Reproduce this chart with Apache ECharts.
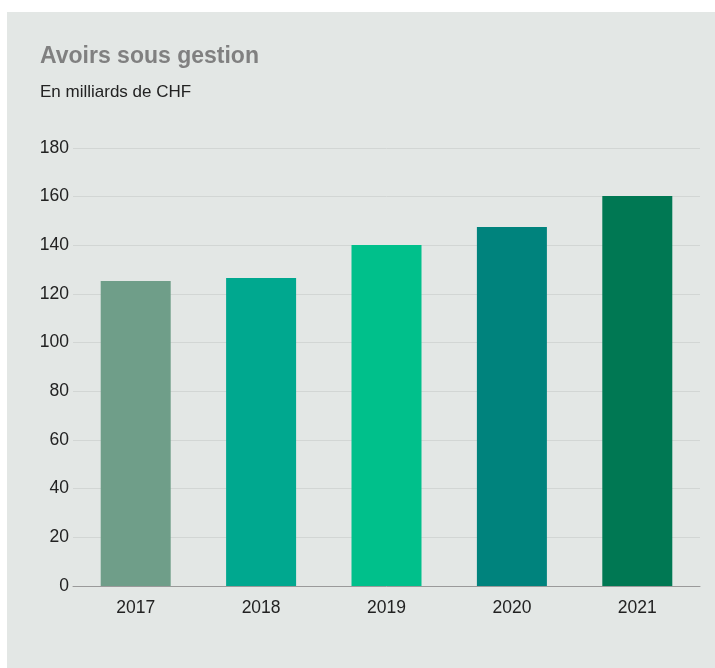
<!DOCTYPE html>
<html>
<head>
<meta charset="utf-8">
<script src="https://cdn.jsdelivr.net/npm/echarts@6/dist/echarts.min.js"></script>
<style>
html,body{margin:0;padding:0;background:#ffffff;}
#c{width:715px;height:668px;}
</style>
</head>
<body>
<div id="c"></div>
<script>
const categories = ['2017', '2018', '2019', '2020', '2021'];
const values = [125.3, 126.6, 140.1, 147.5, 160.3];
const barColors = ['#6f9e89', '#00a88f', '#00c08b', '#00837d', '#007853'];
const yTicks = { min: 0, max: 180, interval: 20 };

const chart = echarts.init(document.getElementById('c'), null, { renderer: 'canvas' });
const font = "'Liberation Sans', Arial, sans-serif";
chart.setOption({
  animation: false,
  backgroundColor: '#ffffff',
  graphic: [{
    type: 'rect', left: 7, top: 12, z: -10,
    shape: { width: 708, height: 656 },
    style: { fill: '#e3e7e5' }
  }],
  title: [
    { text: 'Avoirs sous gestion', left: 35, top: 40, padding: 5,
      textStyle: { fontFamily: font, fontSize: 23, fontWeight: 'bold', color: '#808080' } },
    { text: 'En milliards de CHF', left: 35, top: 79, padding: 5,
      textStyle: { fontFamily: font, fontSize: 17, fontWeight: 'normal', color: '#222222' } }
  ],
  grid: { left: 73, right: 15, top: 148, bottom: 82 },
  xAxis: {
    type: 'category', data: categories,
    axisLine: { lineStyle: { color: '#9a9a9a', width: 1 } },
    axisTick: { show: false },
    axisLabel: { fontFamily: font, fontSize: 17.5, color: '#222222', margin: 13 }
  },
  yAxis: {
    type: 'value', min: yTicks.min, max: yTicks.max, interval: yTicks.interval,
    axisLine: { show: false }, axisTick: { show: false },
    splitLine: { lineStyle: { color: '#d2d6d4', width: 1 } },
    axisLabel: { fontFamily: font, fontSize: 17.5, color: '#222222', margin: 4 }
  },
  series: [{
    type: 'bar', barWidth: 70,
    data: values.map((v, i) => ({ value: v, itemStyle: { color: barColors[i] } }))
  }]
});
</script>
</body>
</html>
